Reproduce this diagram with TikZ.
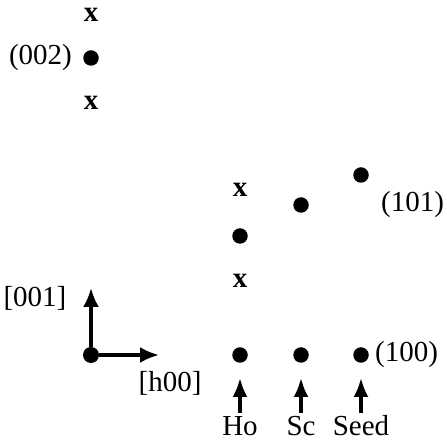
\documentclass[tikz,border=0pt]{standalone}
\usepackage{fontspec}
\setmainfont{Liberation Serif}
\usepackage{tikz}
\usetikzlibrary{arrows.meta,positioning,calc}
\tikzset{
    spot/.style={circle, fill=black, inner sep=0pt, minimum size=15.5pt},
    cross/.style={inner sep=0pt, font=\fontsize{29}{31}\selectfont\bfseries},
    lbl/.style={inner sep=0pt, font=\fontsize{29}{31}\selectfont},
    axis/.style={line width=3.2pt, -{Latex[length=19pt,width=16pt]}},
    probe/.style={line width=3.2pt, -{Latex[length=19pt,width=15pt]}, shorten <=3pt},
}
\begin{document}
\begin{tikzpicture}[x=1pt, y=1pt]
    \useasboundingbox (0,0) rectangle (447,441);
    % (00l) row
    \node[cross] (xtop) at (91,426) {x};
    \node[spot] (D002) at (91,383) {};
    \node[cross] (xmid) at (91,338) {x};
    \node[lbl, left=11pt of D002] (L002) {(002)};
    % axes
    \node[spot, minimum size=16pt] (O) at (91,86) {};
    \coordinate (up) at (91,153);
    \coordinate (right) at (159,86);
    \draw[axis] (O) -- (up);
    \draw[axis] (O) -- (right);
    \node[lbl] (L001) at (35,143) {[001]};
    \node[lbl] (Lh00) at (170,58) {[h00]};
    % columns
    \foreach \x/\name/\txt in {240/Ho/Ho, 301/Sc/Sc, 361/Seed/Seed} {
        \node[spot] (B\name) at (\x,86) {};
        \node[lbl] (T\name) at (\x,15) {\txt};
        \coordinate (P\name) at (\x,63);
        \draw[probe] (T\name) -- (P\name);
    }
    \node[cross] (xHo1) at (240,160) {x};
    \node[spot] (DHo) at (240,205) {};
    \node[cross] (xHo2) at (240,251) {x};
    \node[spot] (DSc) at (301,236) {};
    \node[spot] (DSeed) at (361,266) {};
    \node[lbl, right=6pt of BSeed] (L100) {(100)};
    \node[lbl, anchor=west] (L101) at (381,236) {(101)};
\end{tikzpicture}
\end{document}
